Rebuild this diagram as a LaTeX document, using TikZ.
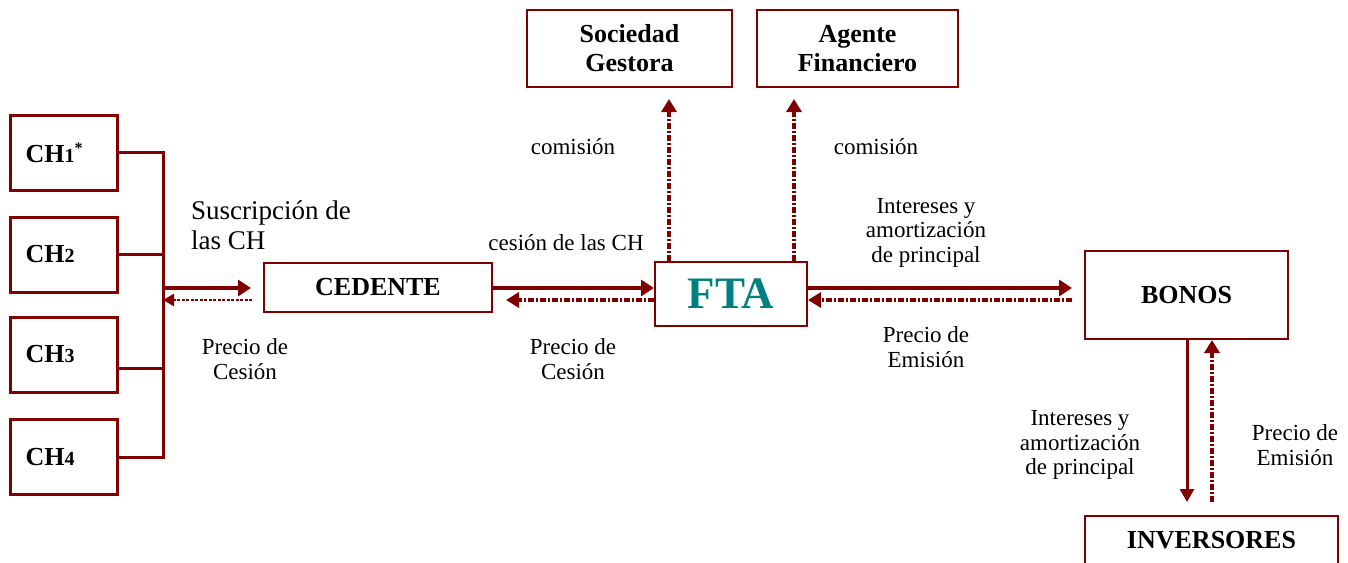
\documentclass[tikz,border=0pt]{standalone}
\usepackage{fontspec}
\setmainfont{Liberation Serif}
\usetikzlibrary{arrows.meta}
\definecolor{dred}{RGB}{128,0,0}
\definecolor{fteal}{RGB}{0,128,128}
\begin{document}
\begin{tikzpicture}[x=1pt,y=-1pt,
 box/.style={draw=dred, line width=2pt, fill=white, inner sep=0pt, align=center, font=\fontsize{26}{29}\selectfont\bfseries},
 chbox/.style={box, line width=3pt, minimum width=107pt, minimum height=75pt, text width=76pt, align=left},
 lbl/.style={font=\fontsize{23}{24.5}\selectfont, align=center, inner sep=0pt},
 link/.style={draw=dred, line width=3pt},
 solidarr/.style={draw=dred, line width=4pt, -{Triangle[length=13pt,width=16pt]}},
 thinarr/.style={draw=dred, line width=3pt, -{Triangle[length=13pt,width=14pt]}},
 dotarr/.style={draw=dred, line width=4pt, dash pattern=on 6pt off 2pt on 2pt off 2pt, -{Triangle[length=13pt,width=15pt]}},
 fineflow/.style={draw=dred, line width=2.5pt, dash pattern=on 3pt off 1.5pt, -{Triangle[length=11pt,width=12pt]}},
]
\useasboundingbox (0,0) rectangle (1348,562);
\clip (0,0) rectangle (1348,562);

% boxes
\node[chbox] (ch1) at (63.5,152.5) {CH{\fontsize{20}{20}\selectfont 1}\raisebox{9pt}{\fontsize{16}{16}\selectfont *}};
\node[chbox] (ch2) at (63.5,254.5) {CH{\fontsize{20}{20}\selectfont 2}};
\node[chbox] (ch3) at (63.5,354.5) {CH{\fontsize{20}{20}\selectfont 3}};
\node[chbox] (ch4) at (63.5,457) {CH{\fontsize{20}{20}\selectfont 4}};
\node[box, minimum width=228pt, minimum height=49pt] (ced) at (378,287.5) {CEDENTE};
\node[box, minimum width=152pt, minimum height=64pt, text=fteal, font=\fontsize{45}{45}\selectfont\bfseries] (fta) at (731,294) {FTA};
\node[box, minimum width=203pt, minimum height=88pt] (bon) at (1186.5,295) {BONOS};
\node[box, minimum width=253pt, minimum height=48pt] (inv) at (1211.5,540) {INVERSORES};
\node[box, minimum width=205pt, minimum height=77pt] (sg) at (629.5,48.5) {Sociedad\\Gestora};
\node[box, minimum width=201pt, minimum height=77pt] (af) at (857.5,48.5) {Agente\\Financiero};

\coordinate (sp) at (163,0);
\coordinate (ya) at (0,288);
\coordinate (yb) at (0,300);

% CH tree
\draw[link] (ch1.east) -- (ch1.east -| sp) -- (ch4.east -| sp) -- (ch4.east);
\draw[link] (ch2.east) -- (ch2.east -| sp);
\draw[link] ([yshift=-14pt]ch3.east) -- ([yshift=-14pt]ch3.east -| sp);

% left flows
\draw[solidarr] (ya -| sp) -- ([xshift=-12pt]ya -| ced.west);
\draw[fineflow] ([xshift=-11pt]yb -| ced.west) -- (yb -| sp);

% cedente - fta
\draw[solidarr] (ya -| ced.east) -- (ya -| fta.west);
\draw[dotarr] (yb -| fta.west) -- ([xshift=13pt]yb -| ced.east);

% fta - bonos
\draw[solidarr] (ya -| fta.east) -- ([xshift=-12pt]ya -| bon.west);
\draw[dotarr] ([xshift=-12pt]yb -| bon.west) -- (yb -| fta.east);

% fta - top boxes
\draw[dotarr, shorten >=11pt] ([xshift=-62pt]fta.north) -- ([xshift=-62pt]fta.north |- sg.south);
\draw[dotarr, shorten >=11pt] ([xshift=63pt]fta.north) -- ([xshift=63pt]fta.north |- af.south);

% bonos - inversores
\draw[thinarr, shorten >=13pt] ([xshift=0.5pt]bon.south) -- ([xshift=0.5pt]bon.south |- inv.north);
\draw[dotarr, shorten <=13pt] ([xshift=25.5pt]bon.south |- inv.north) -- ([xshift=25.5pt]bon.south);

% labels
\node[lbl] (c1) at (573,147) {comisión};
\node[lbl] (c2) at (876,147) {comisión};
\node[lbl, font=\fontsize{27}{30}\selectfont, align=left, anchor=west] (sus) at (191,225) {Suscripción de\\las CH};
\node[lbl] (pc1) at (245,359) {Precio de\\Cesión};
\node[lbl] (ces) at (566,243) {cesión de las CH};
\node[lbl] (pc2) at (573,359) {Precio de\\Cesión};
\node[lbl] (ia1) at (926,232.5) {Intereses y\\amortización\\de principal};
\node[lbl] (pe1) at (926,347) {Precio de\\Emisión};
\node[lbl] (ia2) at (1080,445) {Intereses y\\amortización\\de principal};
\node[lbl] (pe2) at (1295,445) {Precio de\\Emisión};
\end{tikzpicture}
\end{document}
